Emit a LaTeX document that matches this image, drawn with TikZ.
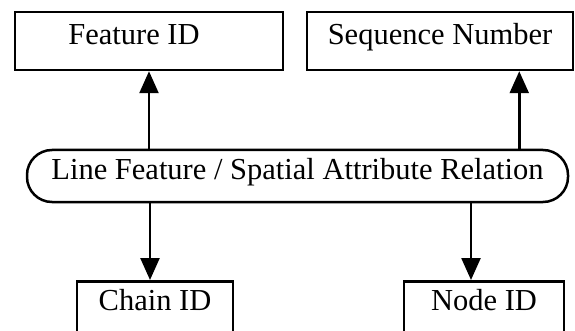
\documentclass[tikz,border=0pt]{standalone}
\usepackage{fontspec}
\setmainfont{Liberation Serif}
\usetikzlibrary{arrows.meta}

\begin{document}
\begin{tikzpicture}[x=1pt, y=-1pt,
    attrbox/.style={draw, line width=2.5pt, minimum height=58pt, inner sep=0pt,
        font=\fontsize{30.5}{36}\selectfont, text height=0.66em, text depth=0pt},
    relbox/.style={draw, line width=2.5pt, rounded corners=25pt, minimum height=52pt,
        minimum width=541pt, inner sep=0pt, font=\fontsize{30.5}{36}\selectfont,
        text height=0.66em, text depth=0pt},
    link/.style={line width=2.5pt, -{Triangle[length=22pt, width=19pt]}}]
    \useasboundingbox (0,0) rectangle (575,331);
    \clip (0,0) rectangle (575,331);

    % top row
    \node[attrbox, minimum width=268pt] (feat) at (149, 41) {Feature ID\hspace*{30pt}};
    \node[attrbox, minimum width=266pt] (seq) at (440, 41) {Sequence Number};

    % relation
    \node[relbox] (rel) at (297.5, 176) {Line Feature / Spatial Attribute Relation};

    % bottom row, cut off by the frame
    \node[attrbox, anchor=north, minimum width=156pt, text depth=0.53em] (chain) at (155, 280) {Chain ID};
    \node[attrbox, anchor=north, minimum width=160pt, text depth=0.53em] (nodeid) at (484, 280) {Node ID};

    \draw[link] (feat.south |- rel.north) -- (feat.south);
    \draw[link] ([xshift=-55pt]seq.south east |- rel.north) -- ([xshift=-55pt]seq.south east);

    \draw[link] ([xshift=-5pt]chain.north |- rel.south) -- ([xshift=-5pt]chain.north);
    \draw[link] ([xshift=-13pt]nodeid.north |- rel.south) -- ([xshift=-13pt]nodeid.north);
\end{tikzpicture}
\end{document}
